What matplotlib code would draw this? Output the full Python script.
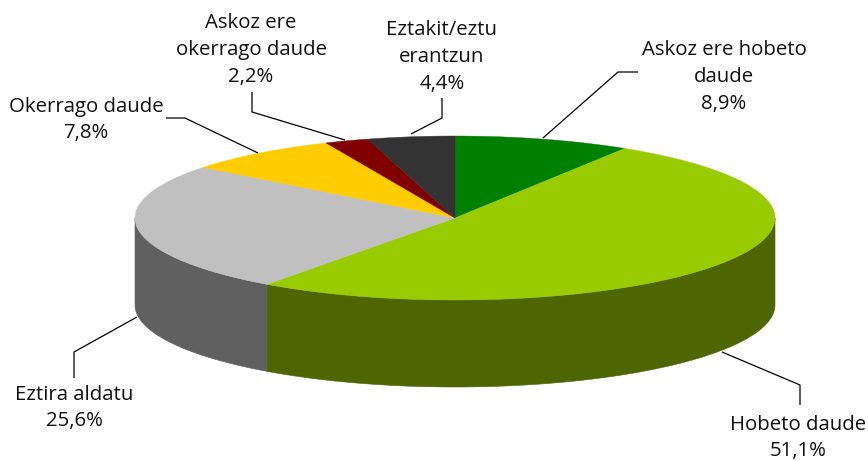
import numpy as np
import matplotlib
matplotlib.use("Agg")
import matplotlib.pyplot as plt
from matplotlib.patches import Polygon

labels = ["Askoz ere hobeto\ndaude", "Hobeto daude", "Eztira aldatu", "Okerrago daude",
          "Askoz ere\nokerrago daude", "Eztakit/eztu\nerantzun"]
values = [8.9, 51.1, 25.6, 7.8, 2.2, 4.4]
top_colors = ["#008000", "#99cc00", "#c0c0c0", "#ffcc00", "#800000", "#333333"]
side_colors = ["#004000", "#4d6600", "#606060", "#806600", "#400000", "#1a1a1a"]
label_xy = [(724, 77), (798, 438), (74, 408), (86, 120), (251, 50), (442, 57)]
leaders = [[(543, 138), (618, 72), (638, 72)],
           [(722, 352), (800, 385), (800, 405)],
           [(137, 317), (74, 352), (74, 378)],
           [(258, 153), (185, 118), (166, 118)],
           [(345, 140), (252, 112), (252, 92)],
           [(411, 134), (442, 118), (442, 98)]]

W, H = 868, 461
CX, CY, RX, RY, DEPTH = 455, 218, 320, 82, 87

fig = plt.figure(figsize=(W / 100, H / 100), dpi=100)
ax = fig.add_axes([0, 0, 1, 1])
ax.set_xlim(0, W)
ax.set_ylim(H, 0)
ax.axis("off")

fr = np.cumsum([0] + values) / sum(values)


def pts(a):
    return np.column_stack([CX + RX * np.sin(a), CY - RY * np.cos(a)])


for i in range(len(values)):
    a0, a1 = 2 * np.pi * fr[i], 2 * np.pi * fr[i + 1]
    lo, hi = max(a0, np.pi / 2), min(a1, 3 * np.pi / 2)
    if hi > lo:
        p = pts(np.linspace(lo, hi, 200))
        poly = np.vstack([p, p[::-1] + [0, DEPTH]])
        ax.add_patch(Polygon(poly, closed=True, fc=side_colors[i], ec=side_colors[i], lw=0.4))

for i in range(len(values)):
    a = np.linspace(2 * np.pi * fr[i], 2 * np.pi * fr[i + 1], 300)
    poly = np.vstack([[CX, CY], pts(a)])
    ax.add_patch(Polygon(poly, closed=True, fc=top_colors[i], ec=top_colors[i], lw=0.3))

for seg in leaders:
    s = np.array(seg)
    ax.plot(s[:, 0], s[:, 1], color="black", lw=0.9, solid_capstyle="butt")

for lab, v, (x, y) in zip(labels, values, label_xy):
    txt = f"{lab}\n{v:.1f}%".replace(".", ",")
    ax.text(x, y, txt, ha="center", va="center", fontsize=14.7, family="Open Sans",
            color="#111111", linespacing=1.46)

fig.savefig("out.png", dpi=100, facecolor="white")
